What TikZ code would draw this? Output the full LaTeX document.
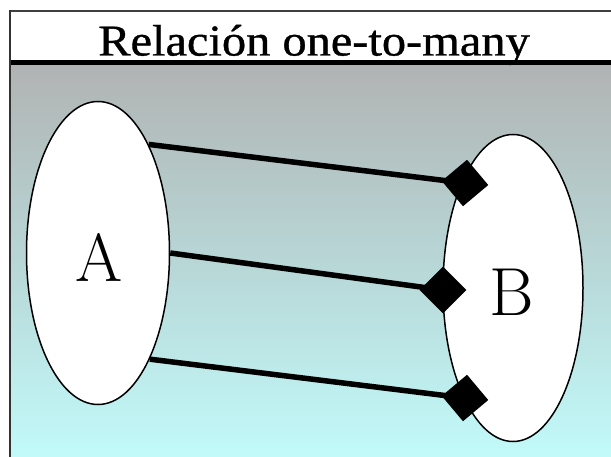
\documentclass[tikz,border=0pt]{standalone}
\usepackage{fontspec}
\newfontfamily\titlefont[FakeBold=0.8]{Liberation Serif}
\usetikzlibrary{shapes.geometric}
\definecolor{topgray}{HTML}{B1B3B3}
\definecolor{midcol}{HTML}{B8D6D6}
\definecolor{botcyan}{HTML}{C2FAFA}
\tikzset{
  setbox/.style={ellipse, draw=black, line width=1.5pt, fill=white, inner sep=0pt,
    font=\fontsize{68}{68}\selectfont},
  manyend/.style={rectangle, fill=black, minimum size=33pt, inner sep=0pt},
  link/.style={line width=5.5pt, black},
}
\begin{document}
\begin{tikzpicture}[x=1pt,y=-1pt]
\useasboundingbox (0,0) rectangle (611,457);
% background gradient
\shade[top color=topgray, bottom color=botcyan, middle color=midcol] (11,64) rectangle (611,457);
% header
\fill[white] (11,12) rectangle (611,61);
\draw[line width=2pt, black!75] (9,11) -- (611,11);
\draw[line width=4.5pt, black] (9,62.5) -- (611,62.5);
\draw[line width=2.2pt, black!80] (10,10) -- (10,457);
\node[anchor=base, font=\titlefont\fontsize{44}{44}\selectfont] (title) at (314,55.5)
  {\scalebox{1.1}[1]{Relación one-to-many}};
% sets
\node[setbox, minimum width=143pt, minimum height=303pt] (A) at (98,253) {};
\node[setbox, minimum width=140pt, minimum height=307pt] (B) at (513,288) {};
\node (Alab) at (99,257) {\fontsize{68}{68}\selectfont A};
\node (Blab) at (512,292) {\fontsize{68}{68}\selectfont B};
% many ends
\node[manyend, rotate=40] (d1) at (465,183) {};
\node[manyend, rotate=45] (d2) at (443,290) {};
\node[manyend, rotate=40] (d3) at (465,398) {};
% connectors
\draw[link] (A.65) -- (d1.center);
\draw[link] (A.0) -- (d2.center);
\draw[link] (A.-64) -- (d3.center);
\end{tikzpicture}
\end{document}
